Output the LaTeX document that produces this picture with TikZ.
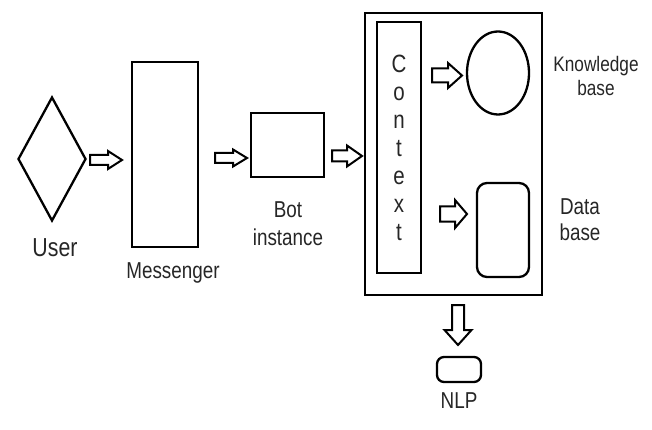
\documentclass[tikz,border=0pt]{standalone}
\usepackage{fontspec}
\setmainfont{Liberation Sans}[FakeStretch=0.82]
\usetikzlibrary{shapes.geometric}
\tikzset{
  box/.style={draw, line width=2.3pt, inner sep=0pt},
  lbl/.style={font=\fontsize{23}{26}\selectfont, text=black!85, inner sep=0pt, anchor=center},
  arrowline/.style={draw, line width=2pt, line join=miter},
  % hollow block arrow pointing right: {length}{shaft half}{head half}{head length}
  pics/blockright/.style n args={4}{code={
    \path[arrowline] (0,-#2) -- ({#1-#4},-#2) -- ({#1-#4},-#3) -- (#1,0)
      -- ({#1-#4},#3) -- ({#1-#4},#2) -- (0,#2) -- cycle;
  }},
  % the same arrow pointing down
  pics/blockdown/.style n args={4}{code={
    \path[arrowline] (-#2,0) -- (-#2,{#1-#4}) -- (-#3,{#1-#4}) -- (0,#1)
      -- (#3,{#1-#4}) -- (#2,{#1-#4}) -- (#2,0) -- cycle;
  }}
}
\begin{document}
\begin{tikzpicture}[x=1pt,y=-1pt]
\useasboundingbox (0,0) rectangle (652,430);

% user and messenger
\node[box, diamond, aspect=0.55, minimum width=68pt, minimum height=124pt] (user) at (52,159) {};
\node[lbl, font=\fontsize{26}{28}\selectfont] (userlbl) at (55,248) {User};
\node[box, rectangle, minimum width=66pt, minimum height=185pt] (msg) at (165,154.5) {};
\node[lbl] (msglbl) at (173,273) {Messenger};

% bot instance
\node[box, rectangle, minimum width=73pt, minimum height=64pt] (bot) at (287.5,145) {};
\node[lbl] (botlbl1) at (288,210) {Bot};
\node[lbl] (botlbl2) at (288,237) {instance};

% backend container
\node[box, rectangle, line width=2.8pt, minimum width=177pt, minimum height=282pt] (back) at (453.5,154) {};
\node[box, rectangle, minimum width=44pt, minimum height=251pt, align=center,
      font=\fontsize{25}{28}\selectfont, text=black!85] (ctx) at (399,147.5)
      {C\\o\\n\\t\\e\\x\\t};
\node[box, ellipse, minimum width=62pt, minimum height=83pt] (kb) at (498,73) {};
\node[lbl, align=center, font=\fontsize{21}{24}\selectfont] (kblbl) at (596,76) {Knowledge\\base};
\node[box, rectangle, rounded corners=10pt, minimum width=52pt, minimum height=94pt] (db) at (503,230) {};
\node[lbl, align=center] (dblbl) at (580,220) {Data\\base};

% nlp
\node[box, rectangle, rounded corners=7pt, minimum width=44pt, minimum height=25pt] (nlp) at (459,369.5) {};
\node[lbl] (nlplbl) at (459,401) {NLP};

% hollow block arrows between the parts
\pic at (90,160)  {blockright={32}{5}{9}{14}};
\pic at (215,158) {blockright={32}{5}{8.5}{14}};
\pic at (332,156) {blockright={30}{5.5}{10.5}{15}};
\pic at (432,75.5) {blockright={30}{7}{12.5}{14}};
\pic at (440,214) {blockright={27}{7.5}{14}{12}};
\pic at (458,305) {blockdown={40}{6}{13.5}{15}};
\end{tikzpicture}
\end{document}
